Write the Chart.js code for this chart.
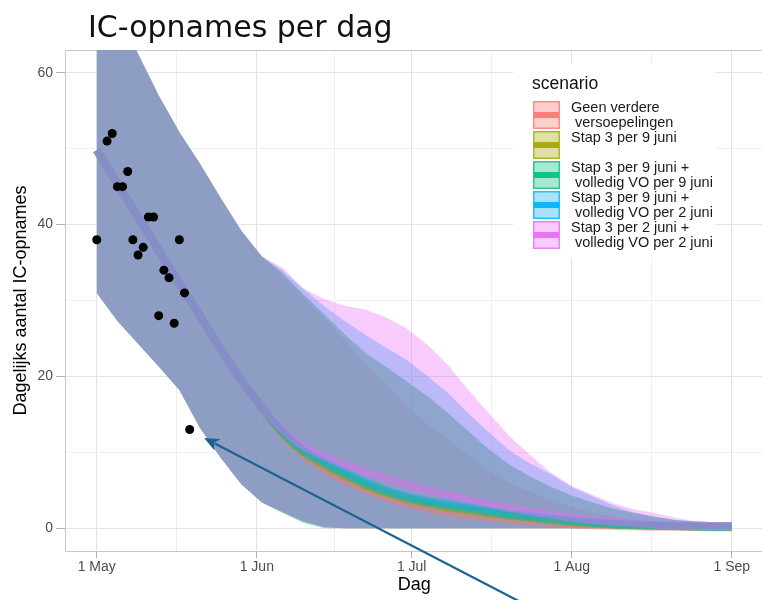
<!DOCTYPE html>
<html><head><meta charset="utf-8">
<script src="https://cdn.jsdelivr.net/npm/chart.js@4/dist/chart.umd.min.js"></script>
<style>html,body{margin:0;padding:0;background:#fff;overflow:hidden;}
#wrap{position:relative;width:768px;height:600px;}</style>
</head><body><div id="wrap"><canvas id="c"></canvas></div>
<script>
// ---- text ----
const chartTitle = 'IC-opnames per dag';
const xAxisTitle = 'Dag';
const yAxisTitle = 'Dagelijks aantal IC-opnames';
const legendTitle = 'scenario';
// x = days since 1 May
const monthTickDays = [0, 31, 61, 92, 123];
const monthTickLabels = ['1 May', '1 Jun', '1 Jul', '1 Aug', '1 Sep'];
const minorXTicks = [15.5, 46, 76.5, 107.5];
const yMajorTicks = [0, 20, 40, 60];
const yMinorTicks = [10, 30, 50];

const scenarioNames = [
  ['Geen verdere', ' versoepelingen'],
  ['Stap 3 per 9 juni', ''],
  ['Stap 3 per 9 juni +', ' volledig VO per 9 juni'],
  ['Stap 3 per 9 juni +', ' volledig VO per 2 juni'],
  ['Stap 3 per 2 juni +', ' volledig VO per 2 juni']
];
const scenarioColors = ['#F8766D', '#A3A500', '#00BF7D', '#00B0F6', '#E76BF3'];

// observed daily IC admissions
const obsDays   = [0, 2, 3, 4, 5, 6, 7, 8, 9, 10, 11, 12, 13, 14, 15, 16, 17, 18];
const obsValues = [38, 51, 52, 45, 45, 47, 38, 36, 37, 41, 41, 28, 34, 33, 27, 38, 31, 13];

// model bands
const bandDays = [0,4,8,12,16,20,24,28,32,36,40,44,48,52,56,60,64,68,72,76,80,84,88,92,96,100,104,108,112,116,120,123];

const upperRed   = [75,68.5,62.5,57,52.2,48,43.5,39.2,35.8,33.3,30.4,27.6,24.8,21.7,19,16.2,13.8,11.8,9.6,7.6,6,4.8,3.7,2.8,2.1,1.6,1.2,0.9,0.7,0.6,0.5,0.5];
const upperOlive = [75,68.5,62.5,57,52.2,48,43.5,39.2,35.8,33.6,30.8,28.2,25.5,23,21.2,19.3,17.5,15.2,12.7,10.3,8.3,6.8,5.4,4.3,3.4,2.6,2,1.5,1.1,0.9,0.8,0.8];
const upperGreen = [75,68.5,62.5,57,52.2,48,43.5,39.2,35.8,33.6,30.9,28.3,25.6,23.2,21.3,19.4,17.4,15.1,12.8,10.4,8.4,6.8,5.5,4.3,3.4,2.6,2,1.5,1.1,0.9,0.8,0.8];
const upperBlue  = [75,68.5,62.5,57,52.2,48,43.5,39.2,35.8,34,31.5,29.3,27.3,25.5,23.8,22.2,20.1,17.8,15.1,12.6,10.2,8.5,7.1,5.4,4.2,3,2.1,1.5,1.1,0.9,0.8,0.8];
const upperPink  = [75,68.5,62.5,57,52.2,48,43.5,39.2,35.8,34.3,31.6,30.2,29.3,28.8,27.8,26.3,24.2,21.5,18.2,15.1,12.1,9.6,7.3,5.6,4.4,3.3,2.5,2,1.4,0.9,0.8,0.8];

const lowerRed   = [31,27.3,24.3,21.3,18.2,13.2,9.3,5.8,3.4,2.1,0.9,0.15,0,0,0,0,0,0,0,0,0,0,0,0,0,0,0,0,0,0,0,0];
const lowerOlive = [31,27.3,24.3,21.3,18.2,13.2,9.3,5.8,3.4,2.1,0.9,0.1,0,0,0,0,0,0,0,0,0,0,0,0,0,0,0,0,0,0,0,0];
const lowerGreen = [31,27.3,24.3,21.3,18.2,13.2,9.3,5.8,3.4,2.0,0.7,0,0,0,0,0,0,0,0,0,0,0,0,0,0,0,0,0,0,0,0,0];
const lowerBlue  = [31,27.3,24.3,21.3,18.2,13.2,9.3,5.8,3.4,2.1,0.9,0.15,0,0,0,0,0,0,0,0,0,0,0,0,0,0,0,0,0,0,0,0];
const lowerPink  = [31,27.3,24.3,21.3,18.2,13.2,9.3,5.8,3.4,2.1,0.9,0.15,0,0,0,0,0,0,0,0,0,0,0,0,0,0,0,0,0,0,0,0];

const medRed   = [49.8,45.4,41,36.6,32.2,28,23.6,19.5,15.9,12.4,9.7,7.8,6.3,5.1,4.1,3.2,2.6,2.1,1.7,1.4,1.1,0.9,0.7,0.5,0.4,0.3,0.25,0.2,0.2,0.15,0.1,0.1];
const medOlive = [49.8,45.4,41,36.6,32.2,28,23.6,19.5,15.9,12.5,10,8.3,6.9,5.6,4.6,3.8,3.2,2.7,2.3,1.9,1.6,1.3,1,0.8,0.6,0.5,0.4,0.3,0.25,0.2,0.2,0.2];
const medGreen = [49.8,45.4,41,36.6,32.2,28,23.6,19.5,15.9,12.6,10.1,8.5,7.1,5.8,4.8,4,3.4,2.9,2.5,2.1,1.7,1.4,1.1,0.9,0.7,0.5,0.4,0.3,0.3,0.2,0.2,0.2];
const medBlue  = [49.8,45.4,41,36.6,32.2,28,23.6,19.5,15.9,12.7,10.3,8.8,7.4,6.1,5,4.2,3.6,3.2,2.8,2.3,1.9,1.6,1.3,1,0.8,0.6,0.5,0.4,0.3,0.25,0.2,0.2];
const medPink  = [49.8,45.4,41,36.6,32.2,28,23.6,19.5,15.9,13,10.8,9.5,8.4,7.5,6.6,5.8,5,4.4,3.8,3.2,2.7,2.2,1.8,1.4,1.1,0.9,0.7,0.5,0.4,0.35,0.3,0.3];

// annotation arrow (data coordinates: day, value)
const arrowTail = [86, -11.1];
const arrowTip  = [20.8, 11.9];

const uppers = [upperRed, upperOlive, upperGreen, upperBlue, upperPink];
const lowers = [lowerRed, lowerOlive, lowerGreen, lowerBlue, lowerPink];
const medians = [medRed, medOlive, medGreen, medBlue, medPink];

function rgba(hex, a) {
  const n = parseInt(hex.slice(1), 16);
  return 'rgba(' + ((n >> 16) & 255) + ',' + ((n >> 8) & 255) + ',' + (n & 255) + ',' + a + ')';
}
const pts = (xs, ys) => xs.map((x, i) => ({x: x, y: ys[i]}));

const FILL_A = 0.35, LINE_A = 0.45;
const datasets = [];
datasets.push({
  label: 'observed', data: pts(obsDays, obsValues), showLine: false,
  pointRadius: 4.5, pointBackgroundColor: '#000', pointBorderWidth: 0, order: 0
});
for (let i = 0; i < 5; i++) {
  datasets.push({
    label: scenarioNames[i].join(' '), data: pts(bandDays, medians[i]),
    borderColor: rgba(scenarioColors[i], LINE_A), borderWidth: 8, pointRadius: 0,
    cubicInterpolationMode: 'monotone', fill: false, order: 10 + (4 - i)
  });
}
for (let i = 0; i < 5; i++) {
  datasets.push({
    label: 'upper ' + i, data: pts(bandDays, uppers[i]), fill: '+1',
    backgroundColor: rgba(scenarioColors[i], FILL_A), borderColor: 'rgba(0,0,0,0)',
    borderWidth: 0, pointRadius: 0, order: 20 + (4 - i)
  });
  datasets.push({
    label: 'lower ' + i, data: pts(bandDays, lowers[i]), fill: false,
    borderColor: 'rgba(0,0,0,0)', borderWidth: 0, pointRadius: 0, order: 20 + (4 - i)
  });
}

const FONT = '"Liberation Sans", Arial, sans-serif';
Chart.defaults.font.family = FONT;

const isMajorX = v => monthTickDays.indexOf(v) >= 0;
const isMajorY = v => yMajorTicks.indexOf(v) >= 0;

const decor = {
  id: 'decor',
  beforeDatasetsDraw(chart) {
    const {ctx, chartArea: a} = chart;
    ctx.save();
    ctx.strokeStyle = '#c8c8c8'; ctx.lineWidth = 1;
    ctx.strokeRect(a.left + 0.5, a.top + 0.5, a.right - a.left - 1, a.bottom - a.top);
    ctx.restore();
  },
  afterDraw(chart) {
    const {ctx} = chart;
    const xs = chart.scales.x, ys = chart.scales.y;
    ctx.save();
    // title
    ctx.font = '30px "DejaVu Sans"';
    ctx.fillStyle = '#111';
    ctx.textBaseline = 'alphabetic';
    ctx.textAlign = 'left';
    ctx.fillText(chartTitle, 88, 37);
    // legend
    ctx.fillStyle = '#fff';
    ctx.fillRect(513, 64, 203, 194);
    ctx.fillStyle = '#111';
    ctx.font = '17.5px ' + FONT;
    ctx.textBaseline = 'middle';
    ctx.fillText(legendTitle, 532, 84);
    ctx.font = '14.5px ' + FONT;
    for (let i = 0; i < 5; i++) {
      const y0 = 101 + i * 30, kx = 533, kw = 27, kh = 28;
      ctx.fillStyle = rgba(scenarioColors[i], FILL_A);
      ctx.fillRect(kx, y0, kw, kh);
      ctx.strokeStyle = rgba(scenarioColors[i], 0.75);
      ctx.lineWidth = 1.5;
      ctx.strokeRect(kx + 0.75, y0 + 0.75, kw - 1.5, kh - 1.5);
      ctx.fillStyle = rgba(scenarioColors[i], 0.9);
      ctx.fillRect(kx + 1, y0 + 11, kw - 2, 6);
      ctx.fillStyle = '#1a1a1a';
      const c = y0 + kh / 2;
      scenarioNames[i].forEach((t, k) => ctx.fillText(t, 571, c - 7.5 + k * 15));
    }
    // arrow
    const x1 = xs.getPixelForValue(arrowTail[0]), y1 = ys.getPixelForValue(arrowTail[1]);
    const x2 = xs.getPixelForValue(arrowTip[0]), y2 = ys.getPixelForValue(arrowTip[1]);
    const ang = Math.atan2(y2 - y1, x2 - x1);
    const hl = 15, hw = 6.5;
    const bx = x2 - hl * Math.cos(ang), by = y2 - hl * Math.sin(ang);
    ctx.strokeStyle = '#1a6392'; ctx.fillStyle = '#1a6392';
    ctx.lineWidth = 2.2;
    ctx.beginPath(); ctx.moveTo(x1, y1); ctx.lineTo(bx + 3 * Math.cos(ang), by + 3 * Math.sin(ang)); ctx.stroke();
    ctx.beginPath();
    ctx.moveTo(x2, y2);
    ctx.lineTo(bx + hw * Math.sin(ang), by - hw * Math.cos(ang));
    ctx.lineTo(x2 - (hl - 4) * Math.cos(ang), y2 - (hl - 4) * Math.sin(ang));
    ctx.lineTo(bx - hw * Math.sin(ang), by + hw * Math.cos(ang));
    ctx.closePath(); ctx.fill();
    ctx.restore();
  }
};

new Chart(document.getElementById('c'), {
  type: 'line',
  data: {datasets: datasets},
  options: {
    responsive: true, maintainAspectRatio: false, animation: false,
    layout: {padding: {top: 50, left: 0, right: 0, bottom: 0}},
    plugins: {legend: {display: false}, tooltip: {enabled: false}, title: {display: false}},
    scales: {
      x: {
        type: 'linear', min: -6.15, max: 129.15,
        afterBuildTicks: s => { s.ticks = monthTickDays.concat(minorXTicks).map(v => ({value: v})); },
        afterFit: s => { s.height = 49; },
        ticks: {
          autoSkip: false, maxRotation: 0, padding: 1, color: '#4d4d4d',
          font: {size: 14, family: FONT},
          callback: v => { const k = monthTickDays.indexOf(v); return k >= 0 ? monthTickLabels[k] : ''; }
        },
        grid: {
          color: c => (c.tick && isMajorX(c.tick.value)) ? '#e4e4e4' : '#efefef',
          tickColor: c => (c.tick && isMajorX(c.tick.value)) ? '#b0b0b0' : 'rgba(0,0,0,0)',
          tickLength: 7, lineWidth: 1
        },
        border: {display: false},
        title: {display: true, text: xAxisTitle, color: '#000', font: {size: 18, family: FONT}, padding: {top: 0, bottom: 4}}
      },
      y: {
        type: 'linear', min: -3, max: 63,
        afterBuildTicks: s => { s.ticks = yMajorTicks.concat(yMinorTicks).map(v => ({value: v})); },
        afterFit: s => { s.width = 65; },
        ticks: {
          padding: 3, color: '#4d4d4d', font: {size: 14, family: FONT},
          callback: v => isMajorY(v) ? String(v) : ''
        },
        grid: {
          color: c => (c.tick && isMajorY(c.tick.value)) ? '#e4e4e4' : '#efefef',
          tickColor: c => (c.tick && isMajorY(c.tick.value)) ? '#b0b0b0' : 'rgba(0,0,0,0)',
          tickLength: 9, lineWidth: 1
        },
        border: {display: false},
        title: {display: true, text: yAxisTitle, color: '#000', font: {size: 18, family: FONT}, padding: {top: 10, bottom: 0}}
      }
    }
  },
  plugins: [decor]
});
</script>
</body></html>
